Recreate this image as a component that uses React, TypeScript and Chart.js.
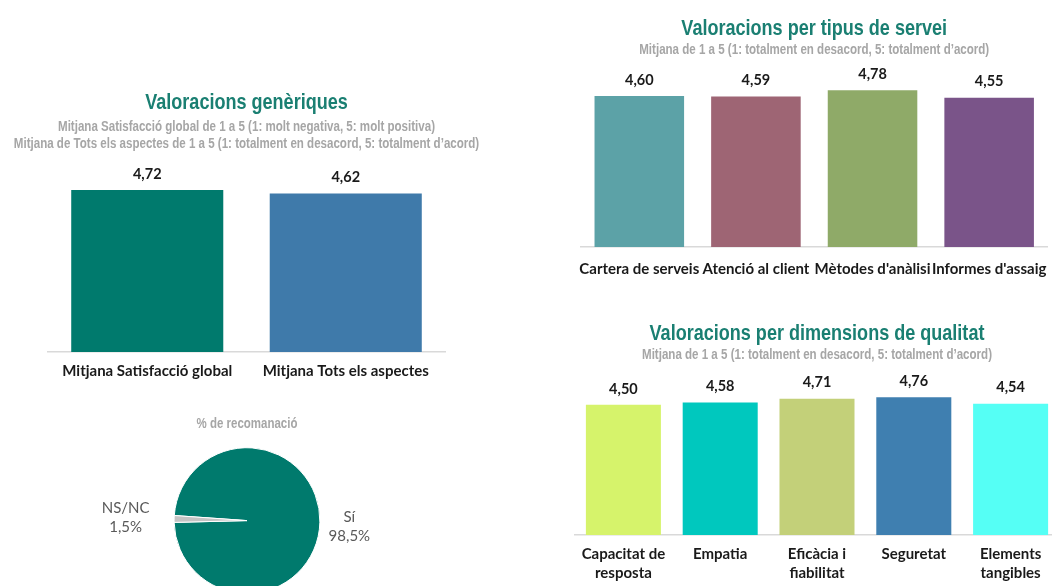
import React, { useEffect, useRef } from 'react';
import { Chart, registerables } from 'chart.js';

Chart.register(...registerables);

// ---------- data ----------
const genericCategories = ['Mitjana Satisfacció global', 'Mitjana Tots els aspectes'];
const genericValues = [4.72, 4.62];
const genericColors = ['#007A6D', '#3F7AAA'];

const serviceCategories = ['Cartera de serveis', 'Atenció al client', "Mètodes d'anàlisi", "Informes d'assaig"];
const serviceValues = [4.6, 4.59, 4.78, 4.55];
const serviceColors = ['#5CA2A7', '#9E6574', '#8FAA68', '#7A5489'];

const qualityCategories = [['Capacitat de', 'resposta'], ['Empatia'], ['Eficàcia i', 'fiabilitat'], ['Seguretat'], ['Elements', 'tangibles']];
const qualityValues = [4.5, 4.58, 4.71, 4.76, 4.54];
const qualityColors = ['#D6F36B', '#00C8BE', '#C3D079', '#3F7FB0', '#55FFF5'];

const recommendLabels = ['Sí', 'NS/NC'];
const recommendValues = [98.5, 1.5];
const recommendColors = ['#007A6D', '#C4C4C4'];

// ---------- styles ----------
const ARIAL = "'Liberation Sans', Arial, sans-serif";
const LABEL_FONT = "Lato, 'Open Sans', sans-serif";
const TITLE_COLOR = '#1A7F72';
const SUB_COLOR = '#A6A6A6';
const NARROW_RATIO = 0.82;

const fmt = (v: number) => v.toFixed(2).replace('.', ',');

// Titles drawn in a condensed (Arial Narrow-like) style
const narrowTitlePlugin = {
  id: 'narrowTitle',
  afterDraw(chart: any, _args: any, opts: any) {
    const { ctx, chartArea } = chart;
    const cx = (chartArea.left + chartArea.right) / 2;
    ctx.save();
    ctx.textAlign = 'center';
    ctx.textBaseline = 'middle';
    (opts.lines || []).forEach((line: any) => {
      ctx.font = `bold ${line.size}px ${ARIAL}`;
      ctx.fillStyle = line.color;
      const w = ctx.measureText(line.text).width;
      ctx.fillText(line.text, cx, line.y, w * NARROW_RATIO);
    });
    ctx.restore();
  },
};

const valueLabelPlugin = {
  id: 'valueLabels',
  afterDatasetsDraw(chart: any) {
    const { ctx } = chart;
    const meta = chart.getDatasetMeta(0);
    const data = chart.data.datasets[0].data as number[];
    ctx.save();
    ctx.font = `bold 14.5px ${LABEL_FONT}`;
    ctx.fillStyle = '#1A1A1A';
    ctx.textAlign = 'center';
    ctx.textBaseline = 'middle';
    meta.data.forEach((el: any, i: number) => {
      ctx.fillText(fmt(data[i]), el.x, el.y - 16);
    });
    ctx.restore();
  },
};

type BarProps = {
  left: number; top: number; width: number; height: number;
  labels: any[]; values: number[]; colors: string[];
  titleLines: any[];
  yMax: number; barPct: number;
  pad: { left: number; right: number; top: number; bottom: number };
  tickPadding: number; tickLineHeight: number;
};

function BarChart(p: BarProps) {
  const ref = useRef<HTMLCanvasElement>(null);
  useEffect(() => {
    if (!ref.current) return;
    const chart = new Chart(ref.current, {
      type: 'bar',
      data: {
        labels: p.labels,
        datasets: [{
          data: p.values,
          backgroundColor: p.colors,
          borderWidth: 0,
          categoryPercentage: 1,
          barPercentage: p.barPct,
        }],
      },
      options: {
        responsive: false,
        animation: false,
        layout: { padding: p.pad },
        plugins: {
          legend: { display: false },
          tooltip: { enabled: false },
          narrowTitle: { lines: p.titleLines },
        },
        scales: {
          x: {
            grid: { display: false, drawTicks: false },
            border: { display: true, color: '#D9D9D9', width: 1.5 },
            ticks: {
              autoSkip: false,
              maxRotation: 0,
              padding: p.tickPadding,
              color: '#1A1A1A',
              font: { family: LABEL_FONT, size: 15, weight: 'bold', lineHeight: p.tickLineHeight },
            },
          },
          y: { display: false, min: 0, max: p.yMax },
        },
      },
      plugins: [valueLabelPlugin, narrowTitlePlugin],
    } as any);
    return () => chart.destroy();
  }, []);
  return (
    <canvas
      ref={ref}
      width={p.width}
      height={p.height}
      style={{ position: 'absolute', left: p.left, top: p.top, width: p.width, height: p.height }}
    />
  );
}

const pieLabelOffsets = [{ d: 29.5, dy: 3.5 }, { d: 48.5, dy: 0 }];

const pieLabelPlugin = {
  id: 'pieLabels',
  afterDatasetsDraw(chart: any) {
    const { ctx } = chart;
    const meta = chart.getDatasetMeta(0);
    const data = chart.data.datasets[0].data as number[];
    const labels = chart.data.labels as string[];
    ctx.save();
    ctx.font = `15px ${LABEL_FONT}`;
    ctx.fillStyle = '#595959';
    ctx.textAlign = 'center';
    ctx.textBaseline = 'middle';
    meta.data.forEach((arc: any, i: number) => {
      const mid = (arc.startAngle + arc.endAngle) / 2;
      const r = arc.outerRadius + pieLabelOffsets[i].d;
      const x = arc.x + Math.cos(mid) * r;
      const y = arc.y + Math.sin(mid) * r + pieLabelOffsets[i].dy;
      ctx.fillText(labels[i], x, y - 9.5);
      ctx.fillText(data[i].toFixed(1).replace('.', ',') + '%', x, y + 9.5);
    });
    ctx.restore();
  },
};

function PieChart() {
  const ref = useRef<HTMLCanvasElement>(null);
  useEffect(() => {
    if (!ref.current) return;
    const chart = new Chart(ref.current, {
      type: 'pie',
      data: {
        labels: recommendLabels,
        datasets: [{
          data: recommendValues,
          backgroundColor: recommendColors,
          borderColor: '#FFFFFF',
          borderWidth: 1,
        }],
      },
      options: {
        responsive: false,
        animation: false,
        rotation: 274,
        layout: { padding: { left: 0, right: 6, top: 37.2, bottom: 1 } },
        plugins: {
          legend: { display: false },
          tooltip: { enabled: false },
          narrowTitle: {
            lines: [{ text: '% de recomanació', size: 14, color: SUB_COLOR, y: 14.5 }],
          },
        },
      },
      plugins: [pieLabelPlugin, narrowTitlePlugin],
    } as any);
    return () => chart.destroy();
  }, []);
  return (
    <canvas
      ref={ref}
      width={500}
      height={185}
      style={{ position: 'absolute', left: 0, top: 410, width: 500, height: 185 }}
    />
  );
}

const SUB_A = 'Mitjana de 1 a 5 (1: totalment en desacord, 5: totalment d’acord)';

export default function App() {
  return (
    <div style={{ position: 'fixed', left: 0, top: 0, width: 1052, height: 586, overflow: 'hidden', background: '#FFFFFF' }}>
      <BarChart
        left={0} top={84} width={500} height={311}
        labels={genericCategories} values={genericValues} colors={genericColors}
        titleLines={[
          { text: 'Valoracions genèriques', size: 22, color: TITLE_COLOR, y: 19 },
          { text: 'Mitjana Satisfacció global de 1 a 5 (1: molt negativa, 5: molt positiva)', size: 14.1, color: SUB_COLOR, y: 43.2 },
          { text: 'Mitjana de Tots els aspectes de 1 a 5 (1: totalment en desacord, 5: totalment d’acord)', size: 14.1, color: SUB_COLOR, y: 60 },
        ]}
        yMax={5.5} barPct={0.766}
        pad={{ left: 48, right: 55, top: 79.2, bottom: 5 }}
        tickPadding={10} tickLineHeight={1.2}
      />
      <BarChart
        left={560} top={0} width={500} height={296}
        labels={serviceCategories} values={serviceValues} colors={serviceColors}
        titleLines={[
          { text: 'Valoracions per tipus de servei', size: 22, color: TITLE_COLOR, y: 29 },
          { text: SUB_A, size: 14.1, color: SUB_COLOR, y: 50.5 },
        ]}
        yMax={5.45} barPct={0.768}
        pad={{ left: 21, right: 5, top: 68.2, bottom: 5 }}
        tickPadding={13} tickLineHeight={1.2}
      />
      <BarChart
        left={560} top={306} width={500} height={291}
        labels={qualityCategories} values={qualityValues} colors={qualityColors}
        titleLines={[
          { text: 'Valoracions per dimensions de qualitat', size: 22, color: TITLE_COLOR, y: 28 },
          { text: SUB_A, size: 14.1, color: SUB_COLOR, y: 49.6 },
        ]}
        yMax={5.56} barPct={0.775}
        pad={{ left: 15, right: 1, top: 68.2, bottom: 4 }}
        tickPadding={10} tickLineHeight={1.267}
      />
      <PieChart />
    </div>
  );
}
